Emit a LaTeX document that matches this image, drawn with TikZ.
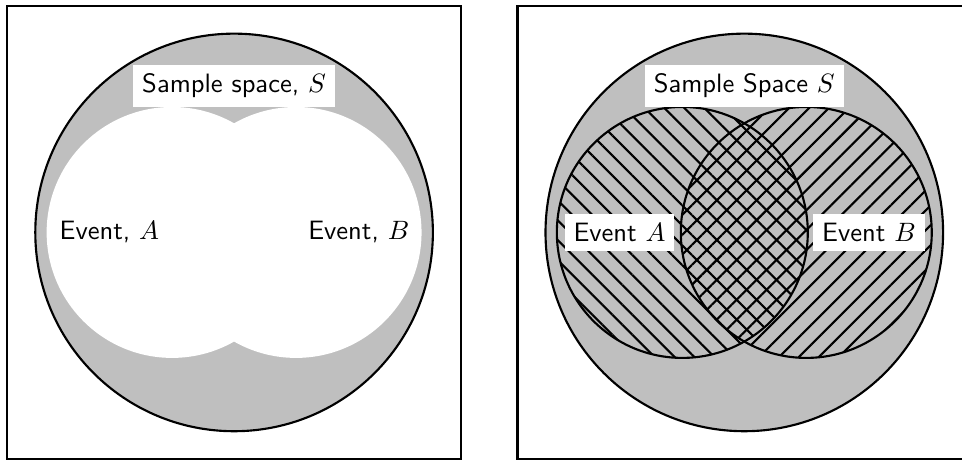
\documentclass[tikz,border=0pt]{standalone}
\usepackage{amsmath}
\usetikzlibrary{patterns.meta}

\begin{document}
\begin{tikzpicture}[font=\sffamily,
                    lbl/.style={fill=white, inner sep=3.33pt},
                    hatchA/.style={pattern={Lines[angle=-45,distance=5.3pt,line width=0.8pt]}},
                    hatchB/.style={pattern={Lines[angle=45,distance=5.3pt,line width=0.8pt]}}]
                      \useasboundingbox (-3.097,-2.998) rectangle (9.63,3.075);
                      % union of A and B
                      \draw [thick] (-3,-3) rectangle (3,3);
                      \draw [thick, fill=lightgray] (0,0) circle (2.63);
                      \fill [white] (-0.82,0) circle (1.66) (0.82,0) circle (1.66);
                      \node [lbl] (s1) at (0,1.94) {Sample space, $S$};
                      \node [lbl] (a1) at (-1.65,0) {Event, $A$};
                      \node [lbl] (b1) at (1.65,0) {Event, $B$};
                      % intersection of A and B
                      \begin{scope}[xshift=6.75cm]
                      \draw [thick] (-3,-3) rectangle (3,3);
                      \draw [thick, fill=lightgray] (0,0) circle (2.63);
                      \draw [thick, hatchA] (-0.82,0) circle (1.66);
                      \draw [thick, hatchB] (0.82,0) circle (1.66);
                      \node [lbl] (s2) at (0,1.94) {Sample Space $S$};
                      \node [lbl] (a2) at (-1.65,0) {Event $A$};
                      \node [lbl] (b2) at (1.65,0) {Event $B$};
                      \end{scope}
                  \end{tikzpicture}
\end{document}
